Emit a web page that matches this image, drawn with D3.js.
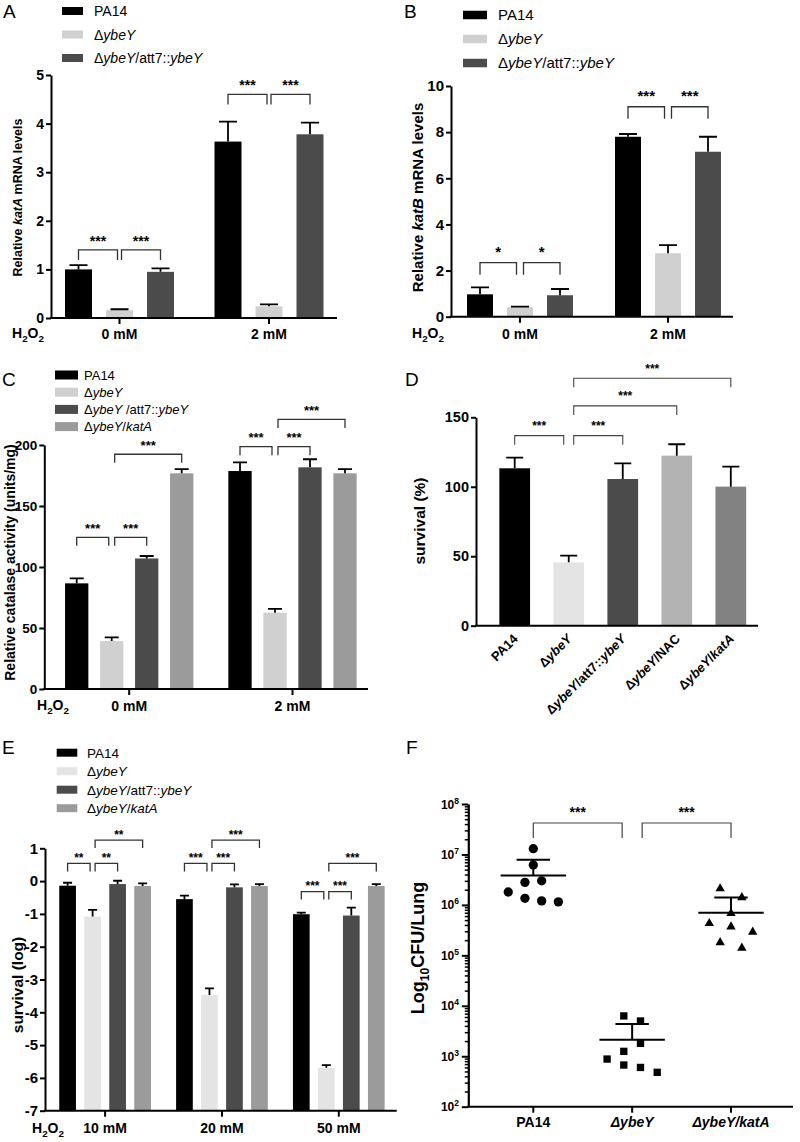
<!DOCTYPE html>
<html><head><meta charset="utf-8">
<script src="https://cdn.jsdelivr.net/npm/d3@7"></script>
<style>
body{margin:0;background:#fff;}
svg{display:block;font-family:"Liberation Sans",Arial,Helvetica,sans-serif;}
</style></head><body>
<svg id="fig" width="800" height="1142"></svg>
<script>
// ================= DATA =================
const conc2 = ["0 mM", "2 mM"];
const conc3 = ["10 mM", "20 mM", "50 mM"];
const strains3 = ["PA14", "Δ<i>ybeY</i>", "Δ<i>ybeY</i>/att7::<i>ybeY</i>"];
const strainsC = ["PA14", "Δ<i>ybeY</i>", "Δ<i>ybeY</i> /att7::<i>ybeY</i>", "Δ<i>ybeY</i>/<i>katA</i>"];
const strainsE = ["PA14", "Δ<i>ybeY</i>", "Δ<i>ybeY</i>/att7::<i>ybeY</i>", "Δ<i>ybeY</i>/<i>katA</i>"];
const strainsD = ["PA14", "Δ<i>ybeY</i>", "Δ<i>ybeY</i>/att7::<i>ybeY</i>", "Δ<i>ybeY</i>/NAC", "Δ<i>ybeY</i>/<i>katA</i>"];
const strainsF = ["PA14", "<i>ΔybeY</i>", "<i>ΔybeY/katA</i>"];

// A: relative katA mRNA (rows = H2O2 conc, cols = strain)
const katAMean = [[1.00, 0.16, 0.95], [3.63, 0.24, 3.78]];
const katASem  = [[0.09, 0.02, 0.07], [0.41, 0.04, 0.24]];
const ticksA = [0, 1, 2, 3, 4, 5];
const bracketsA = [
  {g: 0, a: 0, b: 1, y: 1.40, t: "***"}, {g: 0, a: 1, b: 2, y: 1.40, t: "***"},
  {g: 1, a: 0, b: 1, y: 4.60, t: "***"}, {g: 1, a: 1, b: 2, y: 4.60, t: "***"}];

// B: relative katB mRNA
const katBMean = [[0.97, 0.42, 0.93], [7.80, 2.75, 7.15]];
const katBSem  = [[0.30, 0.02, 0.27], [0.12, 0.35, 0.65]];
const ticksB = [0, 2, 4, 6, 8, 10];
const bracketsB = [
  {g: 0, a: 0, b: 1, y: 2.34, t: "*"}, {g: 0, a: 1, b: 2, y: 2.34, t: "*"},
  {g: 1, a: 0, b: 1, y: 9.10, t: "***"}, {g: 1, a: 1, b: 2, y: 9.10, t: "***"}];

// C: relative catalase activity
const catMean = [[86.6, 39.3, 107.0, 176.8], [178.7, 62.6, 181.7, 176.8]];
const catSem  = [[4.1, 3.0, 2.0, 3.5], [7.0, 3.0, 6.6, 3.4]];
const ticksC = [0, 50, 100, 150, 200];
const bracketsC = [
  {g: 0, a: 0, b: 1, y: 124.3, t: "***"}, {g: 0, a: 1, b: 2, y: 124.3, t: "***"}, {g: 0, a: 1, b: 3, y: 192.4, t: "***"},
  {g: 1, a: 0, b: 1, y: 198.6, t: "***"}, {g: 1, a: 1, b: 2, y: 198.6, t: "***"}, {g: 1, a: 1, b: 3, y: 221.0, t: "***"}];

// D: survival (%)
const survDMean = [113.3, 45.6, 105.6, 122.4, 100.1];
const survDSem  = [7.7, 4.8, 11.3, 8.2, 14.4];
const ticksD = [0, 50, 100, 150];
const bracketsD = [
  {g: 0, a: 0, b: 1, y: 136.8, t: "***"}, {g: 0, a: 1, b: 2, y: 136.8, t: "***"},
  {g: 0, a: 1, b: 3, y: 158.2, t: "***"}, {g: 0, a: 1, b: 4, y: 178.1, t: "***"}];

// E: survival (log)
const survEMean = [[-0.14, -1.08, -0.09, -0.15], [-0.55, -3.47, -0.19, -0.15], [-1.01, -5.69, -1.05, -0.15]];
const survESem  = [[0.09, 0.20, 0.10, 0.08], [0.11, 0.20, 0.09, 0.06], [0.05, 0.08, 0.24, 0.06]];
const ticksE = [1, 0, -1, -2, -3, -4, -5, -6, -7];
const bracketsE = [
  {g: 0, a: 0, b: 1, y: 0.54, t: "**"}, {g: 0, a: 1, b: 2, y: 0.54, t: "**"}, {g: 0, a: 1, b: 3, y: 1.25, t: "**"},
  {g: 1, a: 0, b: 1, y: 0.54, t: "***"}, {g: 1, a: 1, b: 2, y: 0.54, t: "***"}, {g: 1, a: 1, b: 3, y: 1.25, t: "***"},
  {g: 2, a: 0, b: 1, y: -0.32, t: "***"}, {g: 2, a: 1, b: 2, y: -0.32, t: "***"}, {g: 2, a: 1, b: 3, y: 0.54, t: "***"}];

// F: CFU per lung (individual mice)
const cfuPA14 = [1.3e7, 6.2e6, 2.8e6, 3.0e6, 1.8e6, 1.35e6, 1.2e6, 1.15e6];
const cfuYbeY = [6300, 5000, 1800, 1250, 880, 670, 600, 480];
const cfuKatA = [2.1e6, 1.4e6, 6.8e5, 4.3e5, 3.7e5, 2.9e5, 1.8e5, 1.4e5];
const slotPA14 = [0, 0, -0.5, 0.5, -1.5, -0.5, 0.5, 1.5];
const slotYbeY = [-0.5, 0.5, 0.5, -0.5, -1.5, -0.5, 0.5, 1.5];
const slotKatA = [-0.65, 0.65, 0, -1.3, 0, 1.3, -0.65, 0.65];
const ticksF = [1e2, 1e3, 1e4, 1e5, 1e6, 1e7, 1e8];
const bracketsF = [{g: 0, a: 0, b: 1, y: 4.2e7, t: "***"}, {g: 0, a: 1, b: 2, y: 4.2e7, t: "***"}];

// ================= HELPERS =================
const svg = d3.select("#fig");

function rich(sel, markup) {
  markup.split(/(<i>.*?<\/i>)/).filter(s => s.length).forEach(p => {
    const it = p.startsWith("<i>");
    sel.append("tspan").attr("font-style", it ? "italic" : null).text(it ? p.slice(3, -4) : p);
  });
  return sel;
}
function letter(t, x, y) {
  svg.append("text").attr("x", x).attr("y", y).attr("font-size", 19).text(t);
}
function h2o2(x, y, size) {
  const t = svg.append("text").attr("x", x).attr("y", y).attr("font-size", size).attr("font-weight", "bold");
  t.append("tspan").text("H");
  t.append("tspan").attr("dy", 4).attr("font-size", size * 0.7).text("2");
  t.append("tspan").attr("dy", -4).text("O");
  t.append("tspan").attr("dy", 4).attr("font-size", size * 0.7).text("2");
}
function yLabel(markup, x, y, size) {
  const t = svg.append("text").attr("transform", `translate(${x},${y}) rotate(-90)`)
    .attr("text-anchor", "middle").attr("dy", "0.35em").attr("font-size", size).attr("font-weight", "bold");
  rich(t, markup);
  return t;
}
function yAxis(y, x, ticks, size) {
  const a = svg.append("g").attr("transform", `translate(${x},0)`)
    .call(d3.axisLeft(y).tickValues(ticks).tickSize(5).tickSizeOuter(0).tickPadding(2).tickFormat(d => String(d)));
  a.attr("font-family", null);
  a.select(".domain").attr("stroke", "#000").attr("stroke-width", 2);
  a.selectAll(".tick line").attr("stroke", "#000").attr("stroke-width", 2);
  a.selectAll(".tick text").attr("font-size", size).attr("font-weight", "bold").attr("fill", "#000");
  return a;
}
function xAxisLine(x0, x1, y, tickXs) {
  svg.append("line").attr("x1", x0 - 1).attr("x2", x1).attr("y1", y).attr("y2", y).attr("stroke", "#000").attr("stroke-width", 2);
  (tickXs || []).forEach(tx => svg.append("line").attr("x1", tx).attr("x2", tx).attr("y1", y).attr("y2", y + 6).attr("stroke", "#000").attr("stroke-width", 2));
}
function legend(labels, colors, o) {
  labels.forEach((lab, i) => {
    const cy = o.y + i * o.dy;
    svg.append("rect").attr("x", o.x).attr("y", cy - o.h / 2).attr("width", o.w).attr("height", o.h).attr("fill", colors[i]);
    rich(svg.append("text").attr("x", o.tx).attr("y", cy).attr("dy", "0.36em").attr("font-size", o.fs), lab);
  });
}
function groupedBars(o) {
  const bw = o.inner.bandwidth();
  const flat = [];
  o.means.forEach((row, gi) => row.forEach((v, si) => flat.push({
    gi, si, v, e: o.sems[gi][si], cx: o.gx(o.groups[gi]) + o.inner(si) + bw / 2})));
  const g = svg.append("g");
  g.selectAll("rect").data(flat).join("rect")
    .attr("x", d => d.cx - bw / 2).attr("width", bw)
    .attr("y", d => o.y(d.v)).attr("height", d => o.y(o.base) - o.y(d.v))
    .attr("fill", d => o.colors[o.colorBy === "g" ? d.gi : d.si]);
  g.selectAll("path").data(flat).join("path")
    .attr("d", d => `M${d.cx},${o.y(d.v)}V${o.y(d.v + d.e)}M${d.cx - o.capW / 2},${o.y(d.v + d.e)}H${d.cx + o.capW / 2}`)
    .attr("stroke", "#000").attr("stroke-width", 1.8).attr("fill", "none");
  return (gi, si) => o.gx(o.groups[gi]) + o.inner(si) + bw / 2;
}
function brackets(list, cxFn, y, o) {
  list.forEach(b => {
    const x1 = cxFn(b.g, b.a) + (b.a === 1 ? o.gap : 0);
    const x2 = cxFn(b.g, b.b) - (b.b === 1 ? o.gap : 0);
    const yy = y(b.y);
    svg.append("path").attr("d", `M${x1},${yy + o.leg}V${yy}H${x2}V${yy + o.leg}`)
      .attr("fill", "none").attr("stroke", o.color || "#333").attr("stroke-width", o.sw || 1.3);
    svg.append("text").attr("x", (x1 + x2) / 2).attr("y", yy - o.off).attr("text-anchor", "middle")
      .attr("font-size", o.fs).attr("font-weight", "bold").text(b.t);
  });
}
function innerBand(n, step, bw) {
  const p = 1 - bw / step;
  return d3.scaleBand().domain(d3.range(n)).range([-step * n / 2, step * n / 2]).paddingInner(p).paddingOuter(p / 2);
}
function groupLabels(groups, gx, y, size) {
  groups.forEach(g => svg.append("text").attr("x", gx(g)).attr("y", y).attr("text-anchor", "middle")
    .attr("font-size", size).attr("font-weight", "bold").text(g));
}

const col3 = ["#000000", "#d0d0d0", "#4b4b4b"];
const colC = ["#000000", "#d0d0d0", "#4b4b4b", "#9b9b9b"];
const colD = ["#000000", "#e4e4e4", "#4b4b4b", "#b3b3b3", "#828282"];
const colE = ["#000000", "#e4e4e4", "#4b4b4b", "#9b9b9b"];

// ================= PANEL A =================
{
  letter("A", 3, 18);
  legend(strains3, col3, {x: 62, w: 21, h: 8, y: 11, dy: 23.5, tx: 94, fs: 14});
  const y = d3.scaleLinear().domain([0, 5]).range([318, 75]);
  const gx = d3.scalePoint().domain(conc2).range([119.5, 269]);
  const cx = groupedBars({means: katAMean, sems: katASem, groups: conc2, gx, inner: innerBand(3, 41, 27), y, base: 0, colors: col3, capW: 18});
  xAxisLine(51, 337, 318, conc2.map(gx));
  yAxis(y, 51, ticksA, 14);
  brackets(bracketsA, cx, y, {gap: 2, leg: 10, fs: 14, off: 4});
  groupLabels(conc2, gx, 339, 14);
  h2o2(12, 338, 14);
  yLabel("Relative <i>katA</i> mRNA levels", 18, 197.5, 12.5);
}
// ================= PANEL B =================
{
  letter("B", 404, 18);
  legend(strains3, col3, {x: 463, w: 24, h: 8.5, y: 15, dy: 24, tx: 498, fs: 15});
  const y = d3.scaleLinear().domain([0, 10]).range([316.7, 86]);
  const gx = d3.scalePoint().domain(conc2).range([520, 668]);
  const cx = groupedBars({means: katBMean, sems: katBSem, groups: conc2, gx, inner: innerBand(3, 40, 26), y, base: 0, colors: col3, capW: 18});
  xAxisLine(451, 733, 316.7, conc2.map(gx));
  yAxis(y, 451, ticksB, 15);
  brackets(bracketsB, cx, y, {gap: 3.5, leg: 12, fs: 15, off: 6});
  groupLabels(conc2, gx, 339, 14);
  h2o2(412, 338, 14);
  yLabel("Relative <i>katB</i> mRNA levels", 418, 197.5, 15);
}
// ================= PANEL C =================
{
  letter("C", 2, 386);
  legend(strainsC, colC, {x: 55, w: 23, h: 9, y: 375, dy: 17.2, tx: 84, fs: 13});
  const y = d3.scaleLinear().domain([0, 200]).range([689, 445]);
  const gx = d3.scalePoint().domain(conc2).range([129.2, 292.5]);
  const cx = groupedBars({means: catMean, sems: catSem, groups: conc2, gx, inner: innerBand(4, 35, 23.3), y, base: 0, colors: colC, capW: 14});
  xAxisLine(44.3, 368, 689, conc2.map(gx));
  yAxis(y, 44.3, ticksC, 13.5);
  brackets(bracketsC, cx, y, {gap: 3, leg: 8.5, fs: 13, off: 4.5});
  groupLabels(conc2, gx, 711, 14);
  h2o2(37, 710, 14);
  yLabel("Relative catalase activity (units/mg)", 10, 562.5, 14);
}
// ================= PANEL D =================
{
  letter("D", 405, 386);
  const y = d3.scaleLinear().domain([0, 150]).range([625.7, 417.3]);
  const gx = d3.scalePoint().domain(strainsD).range([514.7, 730.8]);
  const cx = groupedBars({means: survDMean.map(v => [v]), sems: survDSem.map(v => [v]), groups: strainsD, gx,
    inner: innerBand(1, 54, 30.7), y, base: 0, colors: colD, colorBy: "g", capW: 17});
  xAxisLine(476, 758, 625.7, []);
  yAxis(y, 476, ticksD, 14.5);
  brackets(bracketsD, (g, i) => cx(i, 0), y, {gap: 5, leg: 9, fs: 12, off: 5.5, sw: 1.1, color: "#444"});
  strainsD.forEach(s => {
    const t = svg.append("text").attr("transform", `translate(${gx(s) + 4},${625.7 + 14}) rotate(-45)`)
      .attr("text-anchor", "end").attr("font-size", 13).attr("font-weight", "bold");
    rich(t, s);
  });
  yLabel("survival (%)", 420, 521, 15.5);
}
// ================= PANEL E =================
{
  letter("E", 2, 754);
  legend(strainsE, colE, {x: 56.7, w: 20.6, h: 8, y: 752.7, dy: 18.5, tx: 87, fs: 13.5});
  const y = d3.scaleLinear().domain([-7, 1]).range([1110.7, 848.3]);
  const gx = d3.scalePoint().domain(conc3).range([105.1, 338.8]);
  const cx = groupedBars({means: survEMean, sems: survESem, groups: conc3, gx, inner: innerBand(4, 25, 16.7), y, base: -7, colors: colE, capW: 9});
  xAxisLine(45, 396.7, 1110.7, conc3.map(gx));
  yAxis(y, 45, ticksE, 15);
  brackets(bracketsE, cx, y, {gap: 2.5, leg: 8, fs: 12, off: 1.5});
  groupLabels(conc3, gx, 1133, 14);
  h2o2(32, 1133, 14);
  yLabel("survival (log)", 18, 985, 15.5);
}
// ================= PANEL F =================
{
  letter("F", 406, 754);
  const y = d3.scaleLog().domain([1e2, 1e8]).range([1106.7, 804]);
  const gx = d3.scalePoint().domain(strainsF).range([533.3, 731]);
  const slotW = 16.7;
  const minors = [];
  for (let k = 2; k < 8; k++) for (let m = 2; m <= 9; m++) minors.push(m * Math.pow(10, k));
  const am = svg.append("g").attr("transform", "translate(468.3,0)")
    .call(d3.axisLeft(y).tickValues(minors).tickSize(3.5).tickSizeOuter(0).tickFormat(""));
  am.select(".domain").remove();
  am.selectAll(".tick line").attr("stroke", "#000").attr("stroke-width", 1.5);
  const aM = svg.append("g").attr("transform", "translate(468.3,0)")
    .call(d3.axisLeft(y).tickValues(ticksF).tickSize(6.5).tickSizeOuter(0).tickFormat(""));
  aM.select(".domain").attr("stroke", "#000").attr("stroke-width", 2.2);
  aM.selectAll(".tick line").attr("stroke", "#000").attr("stroke-width", 2);
  ticksF.forEach(v => {
    const t = svg.append("text").attr("x", 459).attr("y", y(v) + 4.5).attr("text-anchor", "end")
      .attr("font-size", 12).attr("font-weight", "bold");
    t.append("tspan").text("10");
    t.append("tspan").attr("dy", -5).attr("font-size", 8.5).text(String(Math.round(Math.log10(v))));
  });
  xAxisLine(468.3, 793, 1106.7, strainsF.map(gx));
  strainsF.forEach(s => rich(svg.append("text").attr("x", gx(s)).attr("y", 1127).attr("text-anchor", "middle")
    .attr("font-size", 14).attr("font-weight", "bold"), s));

  const sets = [
    {vals: cfuPA14, slots: slotPA14, sym: d3.symbolCircle, size: 68},
    {vals: cfuYbeY, slots: slotYbeY, sym: d3.symbolSquare, size: 54},
    {vals: cfuKatA, slots: slotKatA, sym: d3.symbolTriangle, size: 38}];
  sets.forEach((s, i) => {
    const cxp = gx(strainsF[i]);
    svg.append("g").selectAll("path").data(s.vals).join("path")
      .attr("transform", (d, j) => `translate(${cxp + s.slots[j] * slotW},${y(d)})`)
      .attr("d", d3.symbol().type(s.sym).size(s.size)).attr("fill", "#000");
    const m = d3.mean(s.vals), sd = d3.deviation(s.vals);
    svg.append("path").attr("d", `M${cxp - 32.7},${y(m)}H${cxp + 32.7}M${cxp},${y(m)}V${y(m + sd)}M${cxp - 16.7},${y(m + sd)}H${cxp + 16.7}`)
      .attr("stroke", "#000").attr("stroke-width", 2).attr("fill", "none");
  });
  brackets(bracketsF, (g, i) => gx(strainsF[i]), y, {gap: 10, leg: 15, fs: 14, off: 6, sw: 1.2, color: "#444"});
  const t = svg.append("text").attr("transform", "translate(418,948) rotate(-90)").attr("text-anchor", "middle")
    .attr("dy", "0.35em").attr("font-size", 18).attr("font-weight", "bold");
  t.append("tspan").text("Log");
  t.append("tspan").attr("dy", 5).attr("font-size", 12).text("10");
  t.append("tspan").attr("dy", -5).text("CFU/Lung");
}
</script>
</body></html>
